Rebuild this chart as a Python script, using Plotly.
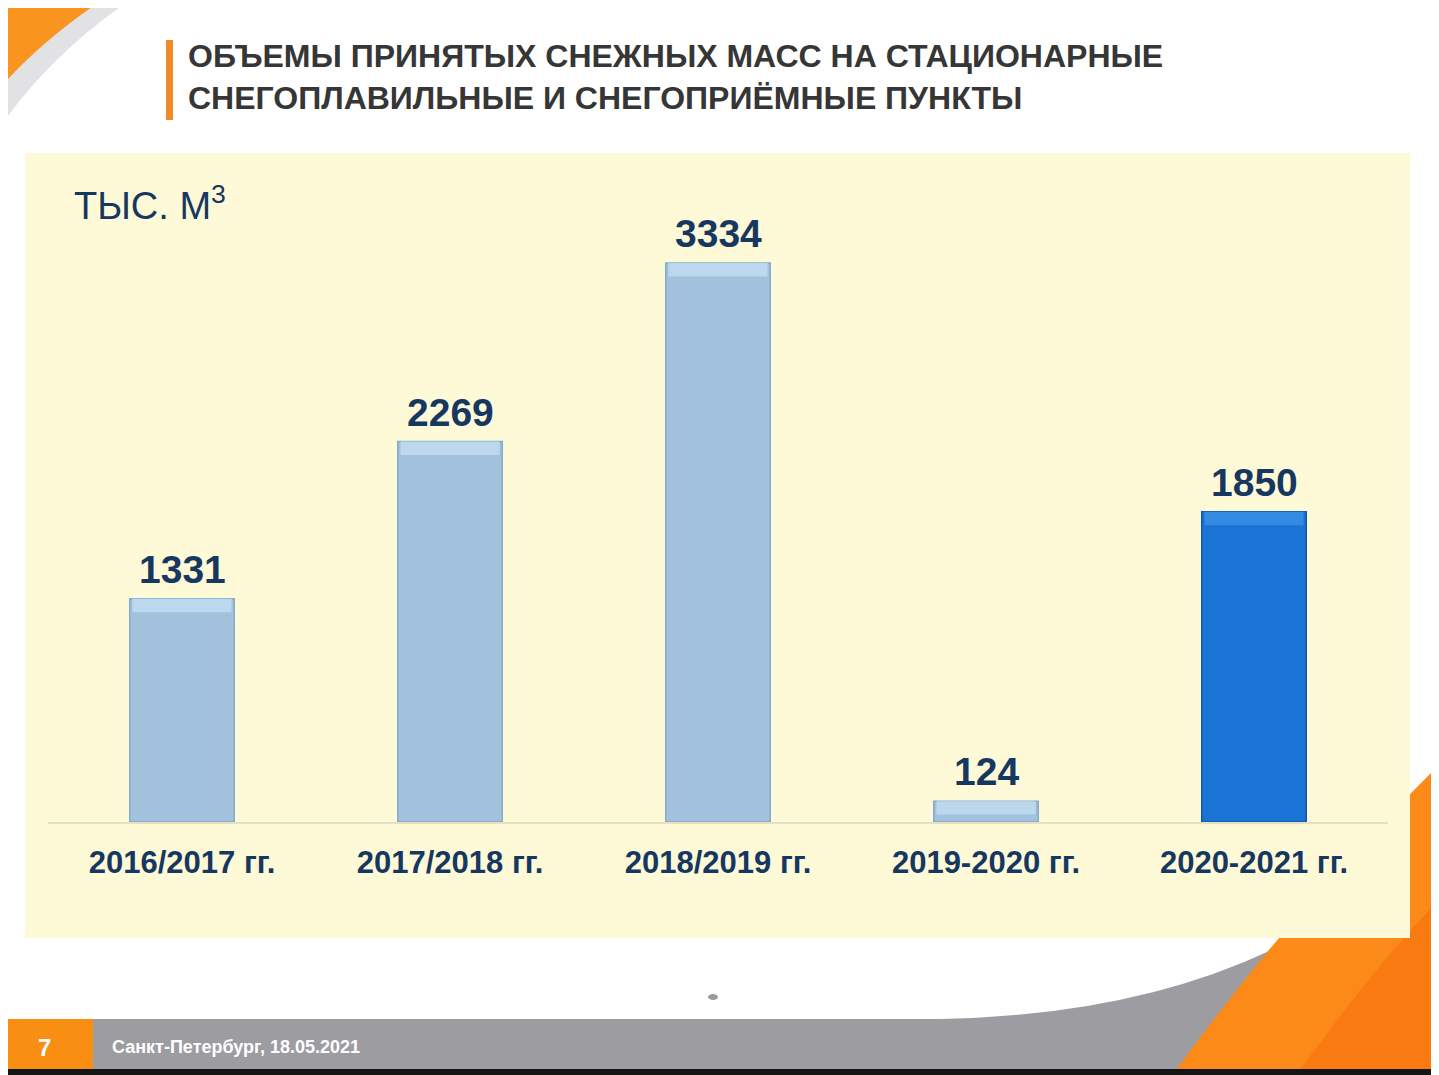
import plotly.graph_objects as go

# data
seasons = ["2016/2017 гг.", "2017/2018 гг.", "2018/2019 гг.", "2019-2020 гг.", "2020-2021 гг."]
volumes = [1331, 2269, 3334, 124, 1850]
bar_colors = ["#a2c1dd", "#a2c1dd", "#a2c1dd", "#a2c1dd", "#1a74d6"]
cap_colors = ["#bcd8ee", "#bcd8ee", "#bcd8ee", "#bcd8ee", "#3489e2"]
edge_colors = ["#88aac8", "#88aac8", "#88aac8", "#88aac8", "#1459aa"]

title_text = "ОБЪЕМЫ ПРИНЯТЫХ СНЕЖНЫХ МАСС НА СТАЦИОНАРНЫЕ<br>СНЕГОПЛАВИЛЬНЫЕ И СНЕГОПРИЁМНЫЕ ПУНКТЫ"
unit_text = "ТЫС. М<sup>3</sup>"
footer_num = "7"
footer_text = "Санкт-Петербург, 18.05.2021"

# the page puts the figure 8px in from the top left corner
OFF = 8
W, H = 1439 - OFF, 1075 - OFF
L, R, T, B = 48 - OFF, 51, 200 - OFF, 253
PW, PH = W - L - R, H - T - B
FONT = "Liberation Sans, Arial, sans-serif"
NAVY = "#16375f"


def px(x):
    return (x - OFF - L) / PW


def py(y):
    return (H - B - (y - OFF)) / PH


def path(points, close=True):
    # points are slide pixels, 'Q' entries are quadratic curves
    out = ""
    for p in points:
        if p[0] == "Q":
            out += " Q%.4f,%.4f %.4f,%.4f" % (px(p[1]), py(p[2]), px(p[3]), py(p[4]))
        else:
            out += (" L" if out else "M") + "%.4f,%.4f" % (px(p[0]), py(p[1]))
    return out + (" Z" if close else "")


cap = 80

fig = go.Figure()
fig.add_trace(go.Bar(
    x=seasons, y=volumes,
    marker=dict(color=bar_colors, line=dict(color=edge_colors, width=1.5)),
    width=0.39, hoverinfo="skip",
))
fig.add_trace(go.Bar(
    x=seasons, y=[min(cap, v - 12) for v in volumes],
    base=[max(v - cap, 12) for v in volumes],
    marker=dict(color=cap_colors, line=dict(width=0)),
    width=0.37, hoverinfo="skip",
))

shapes = []
# decorative orange swoosh top-left
shapes.append(dict(type="path", xref="paper", yref="paper", layer="below",
                   path=path([(0, 0), (130, 0), ("Q", 50, 55, 0, 127)]),
                   fillcolor="#e2e2e4", line=dict(width=0)))
shapes.append(dict(type="path", xref="paper", yref="paper", layer="below",
                   path=path([(0, 0), (102, 0), ("Q", 40, 42, 0, 88)]),
                   fillcolor="#f9951f", line=dict(width=0)))
# grey footer band with rising curve
shapes.append(dict(type="path", xref="paper", yref="paper", layer="below",
                   path=path([(0, 1019), (940, 1019), ("Q", 1160, 1015, 1310, 930), (1439, 930), (1439, 1070), (0, 1070)]),
                   fillcolor="#9d9da1", line=dict(width=0)))
# orange corner bottom-right
shapes.append(dict(type="path", xref="paper", yref="paper", layer="below",
                   path=path([(1176, 1070), ("Q", 1300, 900, 1439, 765), (1439, 1070)]),
                   fillcolor="#fb8a18", line=dict(width=0)))
shapes.append(dict(type="path", xref="paper", yref="paper", layer="below",
                   path=path([(1300, 1070), ("Q", 1380, 960, 1439, 900), (1439, 1070)]),
                   fillcolor="#f97a10", line=dict(width=0)))
# black strip at the very bottom
shapes.append(dict(type="rect", xref="paper", yref="paper", layer="below",
                   x0=px(0), x1=px(1439), y0=py(1069), y1=py(1075),
                   fillcolor="#141414", line=dict(width=0)))
# page number box
shapes.append(dict(type="rect", xref="paper", yref="paper", layer="below",
                   x0=px(0), x1=px(93), y0=py(1069), y1=py(1019),
                   fillcolor="#f98f12", line=dict(width=0)))
# yellow chart panel
shapes.append(dict(type="rect", xref="paper", yref="paper", layer="below",
                   x0=px(25), x1=px(1410), y0=py(938), y1=py(153),
                   fillcolor="#fefad8", line=dict(width=0)))
# orange accent bar by the title
shapes.append(dict(type="rect", xref="paper", yref="paper", layer="below",
                   x0=px(166), x1=px(173), y0=py(120), y1=py(40),
                   fillcolor="#f08a2a", line=dict(width=0)))
# small dot
shapes.append(dict(type="circle", xref="paper", yref="paper", layer="below",
                   x0=px(708), x1=px(718), y0=py(1000), y1=py(994),
                   fillcolor="#9a9a9a", line=dict(width=0)))

annotations = [
    dict(text=title_text, xref="paper", yref="paper", x=px(186), y=py(77),
         xanchor="left", yanchor="middle", align="left", showarrow=False,
         font=dict(family=FONT, size=32, color="#363636", weight="bold")),
    dict(text=unit_text, xref="paper", yref="paper", x=px(72), y=py(203),
         xanchor="left", yanchor="middle", showarrow=False,
         font=dict(family=FONT, size=38, color=NAVY)),
    dict(text="<b>" + footer_num + "</b>", xref="paper", yref="paper", x=px(44), y=py(1047),
         xanchor="center", yanchor="middle", showarrow=False,
         font=dict(family=FONT, size=24, color="white")),
    dict(text="<b>" + footer_text + "</b>", xref="paper", yref="paper", x=px(110), y=py(1047),
         xanchor="left", yanchor="middle", showarrow=False,
         font=dict(family="Liberation Sans Narrow, " + FONT, size=18, color="white")),
]
# value labels above the bars
for s, v in zip(seasons, volumes):
    annotations.append(dict(
        text="<b>%d</b>" % v, x=s, y=v, xref="x", yref="y",
        xanchor="center", yanchor="bottom", yshift=6, showarrow=False,
        font=dict(family=FONT, size=39, color=NAVY)))

fig.update_layout(
    width=W, height=H,
    margin=dict(l=L, r=R, t=T, b=B),
    paper_bgcolor="white", plot_bgcolor="rgba(0,0,0,0)",
    barmode="overlay", showlegend=False,
    shapes=shapes, annotations=annotations,
    xaxis=dict(showline=True, linecolor="#e6dfc2", linewidth=1.5, showgrid=False,
               ticks="", ticklabelstandoff=12, fixedrange=True,
               tickfont=dict(family=FONT, size=31, color=NAVY, weight="bold")),
    yaxis=dict(range=[0, 3710], visible=False, showgrid=False, fixedrange=True),
)

fig.write_html("out.html")
